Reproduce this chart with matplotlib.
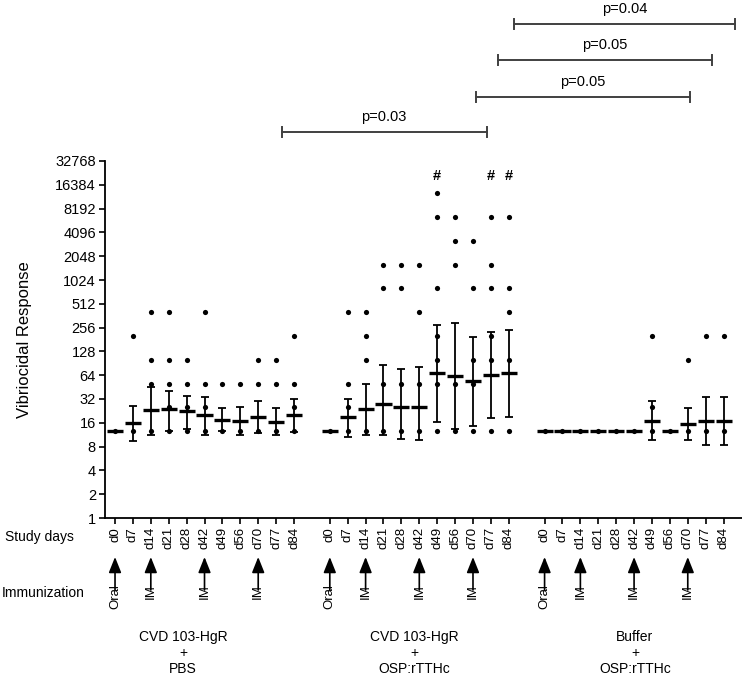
import numpy as np
import matplotlib
matplotlib.use("Agg")
import matplotlib.pyplot as plt
from matplotlib.transforms import blended_transform_factory

plt.rcParams['font.family'] = ['Liberation Sans', 'DejaVu Sans']

days = ['d0', 'd7', 'd14', 'd21', 'd28', 'd42', 'd49', 'd56', 'd70', 'd77', 'd84']
groups = ['CVD 103-HgR\n+\nPBS', 'CVD 103-HgR\n+\nOSP:rTTHc', 'Buffer\n+\nOSP:rTTHc']
group_start = [0, 12, 24]
group_label_x = [3.8, 16.7, 29.05]

# individual titers per day (unique values visible)
dots_g1 = [[12.5], [12.5, 200], [12.5, 50, 100, 400], [12.5, 25, 50, 100, 400],
           [12.5, 25, 50, 100], [12.5, 25, 50, 400], [12.5, 50], [12.5, 50],
           [12.5, 50, 100], [12.5, 50, 100], [12.5, 25, 50, 200]]
dots_g2 = [[12.5], [12.5, 25, 50, 400], [12.5, 100, 200, 400], [12.5, 50, 800, 1600],
           [12.5, 50, 800, 1600], [12.5, 50, 400, 1600],
           [12.5, 50, 100, 200, 800, 6400, 12800], [12.5, 50, 1600, 3200, 6400],
           [12.5, 50, 100, 800, 3200], [12.5, 100, 200, 800, 1600, 6400],
           [12.5, 100, 400, 800, 6400]]
dots_g3 = [[12.5], [12.5], [12.5], [12.5], [12.5], [12.5], [12.5, 25, 200],
           [12.5], [12.5, 100], [12.5, 200], [12.5, 200]]

# geometric means and 95% CI
mean_g1 = [12.5, 16, 23, 24, 22.5, 19.8, 17.5, 16.7, 18.8, 16.3, 19.8]
lo_g1 = [12.5, 9.5, 11.1, 12.5, 13.4, 11.1, 12.5, 11.1, 11.9, 11.1, 12.1]
hi_g1 = [12.5, 26.3, 46, 40.8, 34.6, 33.9, 24.6, 25.1, 29.8, 24.6, 32]

mean_g2 = [12.5, 18.8, 23.7, 28, 25.5, 25.5, 67.7, 62.6, 53.5, 64, 67.7]
lo_g2 = [12.5, 10.6, 11.1, 11.1, 10.0, 9.8, 16.2, 13.4, 14.4, 18.4, 19.1]
hi_g2 = [12.5, 32.2, 49.5, 85.4, 77.7, 80.6, 280, 296, 195, 224, 239]

mean_g3 = [12.5, 12.5, 12.5, 12.5, 12.5, 12.5, 17.0, 12.5, 15.5, 17.0, 17.0]
lo_g3 = [12.5, 12.5, 12.5, 12.5, 12.5, 12.5, 9.8, 12.5, 9.8, 8.3, 8.3]
hi_g3 = [12.5, 12.5, 12.5, 12.5, 12.5, 12.5, 29.8, 12.5, 24.6, 34.3, 34.3]

hash_idx_g2 = [6, 9, 10]
immun_idx = [0, 2, 5, 8]
immun_lbl = ['Oral', 'IM', 'IM', 'IM']

# significance brackets: start/end (x position), height (figure px from top)
sig_x0 = [9.31, 20.17, 21.40, 22.29]
sig_x1 = [20.77, 32.12, 33.35, 34.64]
sig_ypx = [131.7, 97, 60, 24]
sig_lbl = ['p=0.03', 'p=0.05', 'p=0.05', 'p=0.04']

W, H = 742, 680
fig = plt.figure(figsize=(W / 100, H / 100), dpi=100)
ax = fig.add_axes([105 / W, 1 - 518 / H, 637 / W, 357 / H])

all_dots = [dots_g1, dots_g2, dots_g3]
all_mean = [mean_g1, mean_g2, mean_g3]
all_lo = [lo_g1, lo_g2, lo_g3]
all_hi = [hi_g1, hi_g2, hi_g3]

xticks = []
for g in range(3):
    pos = np.arange(len(days)) + group_start[g]
    xticks.extend(pos)
    for i, p in enumerate(pos):
        ys = all_dots[g][i]
        ax.scatter([p] * len(ys), ys, s=14, color='black', zorder=4, linewidths=0)
    m = np.array(all_mean[g])
    lo = np.array(all_lo[g])
    hi = np.array(all_hi[g])
    has_err = hi > lo
    ax.errorbar(pos[has_err], m[has_err], yerr=[m[has_err] - lo[has_err], hi[has_err] - m[has_err]],
                fmt='none', ecolor='black', elinewidth=1.3, capsize=3, capthick=1.3, zorder=3)
    ax.hlines(m, pos - 0.45, pos + 0.45, color='black', linewidth=2.4, zorder=5)

# hash marks over significant days
for i in hash_idx_g2:
    ax.text(group_start[1] + i, 2 ** 14.35, '#', ha='center', va='center',
            fontsize=10.5, fontweight='bold')

ax.set_yscale('log', base=2)
ax.set_ylim(1, 32768)
ax.set_xlim(-0.56, 35.03)
yt = [2 ** k for k in range(16)]
ax.set_yticks(yt)
ax.set_yticklabels([str(v) for v in yt], fontsize=10.5)
ax.yaxis.set_minor_locator(matplotlib.ticker.NullLocator())
ax.set_xticks(xticks)
ax.set_xticklabels(days * 3, rotation=90, fontsize=9.5)
ax.tick_params(axis='both', direction='out', length=4.5, width=1.2, pad=2)
for s in ['top', 'right']:
    ax.spines[s].set_visible(False)
for s in ['left', 'bottom']:
    ax.spines[s].set_linewidth(1.3)

fig.text(25 / W, 1 - 340 / H, 'Vibriocidal Response', rotation=90,
         ha='center', va='center', fontsize=12)
fig.text(5 / W, 1 - 537 / H, 'Study days', ha='left', va='center', fontsize=10)
fig.text(2 / W, 1 - 593 / H, 'Immunization', ha='left', va='center', fontsize=10)

tr = blended_transform_factory(ax.transData, fig.transFigure)

# immunization arrows
for g in range(3):
    for i, lbl in zip(immun_idx, immun_lbl):
        x = group_start[g] + i
        ax.annotate('', xy=(x, 1 - 557 / H), xytext=(x, 1 - 590 / H),
                    xycoords=tr, textcoords=tr, annotation_clip=False,
                    arrowprops=dict(arrowstyle='-|>,head_length=0.95,head_width=0.38',
                                    mutation_scale=10, color='black', lw=1.2,
                                    shrinkA=0, shrinkB=0))
        ax.text(x, 1 - 584 / H, lbl, transform=tr, rotation=90, ha='center',
                va='top', fontsize=9.5)
    ax.text(group_label_x[g], 1 - 653 / H, groups[g], transform=tr, ha='center',
            va='center', multialignment='center', fontsize=10, linespacing=1.2)

# significance brackets
for x0, x1, ypx, lbl in zip(sig_x0, sig_x1, sig_ypx, sig_lbl):
    y = 1 - ypx / H
    d = 5 / H
    ax.plot([x0, x1], [y, y], color='#404040', lw=1.4, transform=tr, clip_on=False)
    ax.plot([x0, x0], [y - d, y + d], color='#404040', lw=1.4, transform=tr, clip_on=False)
    ax.plot([x1, x1], [y - d, y + d], color='#404040', lw=1.4, transform=tr, clip_on=False)
    ax.text((x0 + x1) / 2, y + 15 / H, lbl, transform=tr, ha='center', va='center',
            fontsize=10.5)

fig.savefig('out.png', dpi=100)
